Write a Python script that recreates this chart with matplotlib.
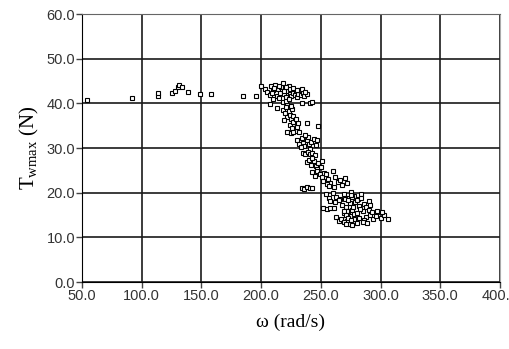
import matplotlib
matplotlib.use("Agg")
import matplotlib.pyplot as plt

# rotor speed (rad/s) and max wheel force (N)
omega = [54, 92, 114, 114, 125, 128, 130, 131, 134, 139, 149, 158, 185, 196, 200,
         203, 205, 207, 208, 210, 212, 213, 214, 216, 217, 218, 219, 220, 221, 222,
         223, 224, 225, 226, 227, 228, 229, 230, 231, 232, 233, 235, 236, 238, 210, 215,
         209, 211, 215, 219, 221, 224, 227, 230, 234, 237,
         207, 213, 234, 241, 243, 218, 222,
         218, 220, 221, 222, 223, 224, 225, 226, 227, 219, 221, 223, 225,
         224, 226, 228, 229, 230, 231, 232, 238, 248, 222, 225, 227, 227, 229,
         230, 232, 234, 235, 236, 238, 239, 240, 242, 244, 246, 247, 233, 237, 241,
         235, 237, 239, 241, 243, 245,
         238, 240, 242, 244, 246, 248, 250, 251, 243, 247,
         243, 245, 247, 249, 251, 253,
         234, 236, 238, 241, 243,
         252, 254, 256, 258, 260, 262, 264, 255, 257, 261,
         266, 268, 270, 272,
         252, 255, 258, 261,
         254, 257, 260, 263, 266, 269, 272, 275, 278, 281, 284, 258, 262, 265,
         268, 269, 270, 271, 272, 273, 274, 275, 276, 277, 278, 279, 270, 274, 276, 272, 278,
         269, 271, 273, 275, 277, 273, 275,
         280, 282, 284, 286, 288, 290, 291,
         263, 265, 267, 269,
         280, 282, 285, 288, 291, 294, 297, 300, 303, 306, 286, 283, 290, 296,
         271, 276, 280,
         285, 289,
         293, 297, 301]
torque = [40.8, 41.2, 41.6, 42.3, 42.3, 42.8, 43.6, 44.0, 43.6, 42.5, 42.1, 42.1, 41.6, 41.6, 43.9,
          43.2, 42.6, 41.9, 43.8, 42.9, 44.2, 41.6, 43.1, 42.4, 43.7, 44.5, 42.0, 43.2, 41.4, 42.7,
          43.9, 42.2, 41.7, 43.0, 42.4, 41.9, 42.8, 41.5, 42.2, 42.9, 41.8, 42.4, 41.6, 42.1, 41.0, 41.2,
          42.3, 43.5, 43.9, 42.8, 43.6, 43.3, 43.5, 43.0, 43.2, 42.6,
          39.8, 39.0, 40.1, 40.1, 40.4, 40.2, 39.6,
          38.6, 37.8, 39.1, 36.9, 38.2, 37.4, 36.5, 38.8, 37.1, 36.2, 40.6, 40.9, 39.4,
          35.2, 34.4, 35.8, 33.9, 34.8, 35.5, 33.6, 35.6, 35.0, 33.5, 33.4, 33.6, 35.9, 36.4,
          31.9, 30.8, 32.3, 31.2, 30.4, 31.7, 32.4, 30.9, 31.4, 32.1, 30.6, 31.8, 30.2, 32.8, 29.8,
          28.9, 28.6, 29.1, 28.7, 28.9, 28.5,
          26.9, 27.3, 26.2, 27.0, 25.9, 26.6, 25.8, 27.1, 27.8, 25.4,
          24.6, 23.8, 24.9, 24.1, 23.6, 24.5,
          21.1, 20.9, 21.2, 21.0, 21.1,
          22.6, 24.2, 23.1, 22.2, 24.8, 23.5, 22.4, 22.0, 21.5, 21.2,
          22.9, 21.8, 23.2, 22.1,
          16.5, 16.4, 16.6, 16.5,
          19.6, 18.8, 20.0, 19.1, 18.5, 19.8, 18.9, 20.1, 19.3, 18.6, 19.7, 18.1, 17.8, 18.3,
          17.2, 15.5, 14.1, 16.8, 13.6, 15.9, 17.6, 14.7, 16.2, 13.1, 15.2, 17.9, 18.6, 12.9, 19.1, 16.0, 14.0,
          16.0, 15.0, 18.3, 19.4, 16.9, 14.4, 13.8,
          18.4, 17.1, 18.8, 17.5, 16.9, 18.1, 17.3,
          14.5, 13.6, 14.2, 13.4,
          15.4, 14.3, 15.8, 14.6, 15.1, 14.0, 15.6, 14.4, 14.9, 14.1, 13.9, 16.3, 16.2, 14.8,
          13.0, 12.8, 13.3,
          13.5, 13.2,
          15.7, 15.8, 15.6]

x_ticks = [50, 100, 150, 200, 250, 300, 350, 400]
y_ticks = [0, 10, 20, 30, 40, 50, 60]

plt.rcParams['font.family'] = ['Liberation Sans', 'DejaVu Sans']
plt.rcParams['mathtext.fontset'] = 'custom'
plt.rcParams['mathtext.rm'] = 'Liberation Serif'
plt.rcParams['mathtext.it'] = 'Liberation Serif:italic'

fig = plt.figure(figsize=(5.09, 3.49), dpi=100)
ax = fig.add_axes([82 / 509, 1 - 282 / 349, 418 / 509, 268 / 349])

ax.set_xlim(50, 400)
ax.set_ylim(0, 60)
ax.set_xticks(x_ticks)
ax.set_yticks(y_ticks)
ax.set_xticklabels([f"{v:.1f}" for v in x_ticks])
ax.set_yticklabels([f"{v:.1f}" for v in y_ticks])
ax.grid(True, color='#1a1a1a', linewidth=1.2)
ax.set_axisbelow(True)

ax.plot(omega, torque, linestyle='none', marker='s', markersize=3.3,
        markerfacecolor='white', markeredgecolor='black', markeredgewidth=0.8)

ax.tick_params(direction='out', length=4, width=1, pad=1, labelsize=10.5,
               labelcolor='#333333', color='#444444')
for side in ['left', 'bottom']:
    ax.spines[side].set_color('black')
ax.spines['top'].set_color('#666666')
ax.spines['right'].set_color('#aaaaaa')

ax.set_xlabel('ω (rad/s)', family='Liberation Serif', fontsize=14, labelpad=8)
ax.set_ylabel(r'$\mathrm{T}_{\mathrm{wmax}}\ \mathrm{(N)}$', fontsize=15, labelpad=4)

fig.savefig('out.png', dpi=100)
